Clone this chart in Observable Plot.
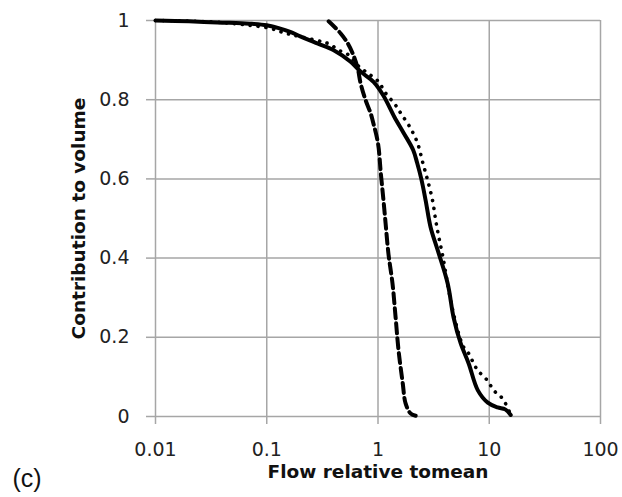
<!DOCTYPE html>
<html>
<head>
<meta charset="utf-8">
<script src="https://cdn.jsdelivr.net/npm/d3@7"></script>
<script src="https://cdn.jsdelivr.net/npm/@observablehq/plot@0.6"></script>
<style>
  html, body { margin: 0; padding: 0; background: #fff; }
  #chart { width: 622px; height: 497px; }
</style>
</head>
<body>
<div id="chart"></div>
<script>
// Tick values
const xTicks = [0.01, 0.1, 1, 10, 100];
const yTicks = [0, 0.2, 0.4, 0.6, 0.8, 1];

// Solid series
const solidX = [0.01, 0.02, 0.036, 0.07, 0.1, 0.13, 0.16, 0.2, 0.285, 0.4, 0.567, 0.697, 0.912, 1.12, 1.4, 1.7, 2.07, 2.25, 2.45, 2.68, 2.97, 3.44, 4.23, 4.78, 5.53, 6.53, 7.9, 9.7, 11.9, 13.9, 15.6];
const solidY = [1.0, 0.998, 0.995, 0.992, 0.988, 0.98, 0.972, 0.96, 0.942, 0.925, 0.896, 0.871, 0.845, 0.81, 0.757, 0.716, 0.673, 0.64, 0.6, 0.546, 0.478, 0.42, 0.336, 0.25, 0.185, 0.134, 0.066, 0.035, 0.023, 0.018, 0.004];

// Dotted series
const dottedX = [0.01, 0.03, 0.06, 0.108, 0.142, 0.174, 0.318, 0.37, 0.443, 0.544, 0.656, 0.773, 0.894, 1.04, 1.12, 1.44, 1.6, 1.96, 2.27, 2.52, 2.79, 3.09, 3.3, 3.52, 3.81, 4.5, 5.3, 5.89, 6.53, 7.24, 7.9, 9.29, 10.3, 11.4, 13.2, 15.6];
const dottedY = [1.0, 0.997, 0.99, 0.98, 0.969, 0.963, 0.946, 0.94, 0.925, 0.913, 0.887, 0.871, 0.858, 0.842, 0.824, 0.786, 0.766, 0.728, 0.69, 0.642, 0.597, 0.546, 0.496, 0.453, 0.407, 0.293, 0.21, 0.175, 0.159, 0.134, 0.116, 0.096, 0.078, 0.061, 0.045, 0.004];

// Dashed series
const dashedX = [0.36, 0.46, 0.533, 0.59, 0.656, 0.697, 0.773, 0.858, 0.894, 1.0, 1.06, 1.12, 1.17, 1.24, 1.35, 1.44, 1.53, 1.67, 1.77, 1.96, 2.18];
const dashedY = [0.998, 0.968, 0.943, 0.918, 0.88, 0.842, 0.799, 0.766, 0.748, 0.69, 0.614, 0.546, 0.488, 0.412, 0.336, 0.25, 0.167, 0.083, 0.033, 0.008, 0.002];

const xTitle = "Flow relative tomean";
const yTitle = "Contribution to volume";
const panelLabel = "(c)";

const toRows = (xs, ys) => xs.map((x, i) => ({x, y: ys[i]}));
const solid = toRows(solidX, solidY);
const dotted = toRows(dottedX, dottedY);
const dashed = toRows(dashedX, dashedY);

const grid = "#a6a6a6";

const chart = Plot.plot({
  width: 622,
  height: 497,
  marginLeft: 155,
  marginRight: 22,
  marginTop: 20,
  marginBottom: 81,
  style: {fontFamily: "DejaVu Sans", fontSize: "19px", background: "#fff", color: "#222"},
  x: {type: "log", domain: [0.01, 100]},
  y: {domain: [0, 1]},
  marks: [
    Plot.ruleX(xTicks, {stroke: grid, strokeWidth: 1.5}),
    Plot.ruleY(yTicks, {stroke: grid, strokeWidth: 1.5}),
    Plot.axisX({ticks: xTicks, tickSize: 8, tickPadding: 18, stroke: grid, strokeWidth: 1.5, fill: "#222", tickFormat: d => String(d), label: null}),
    Plot.axisY({ticks: yTicks, tickSize: 9, tickPadding: 17, stroke: grid, strokeWidth: 1.5, fill: "#222", tickFormat: d => String(d), label: null}),
    Plot.line(dashed, {x: "x", y: "y", stroke: "#000", strokeWidth: 4, strokeDasharray: "10,5", curve: "catmull-rom"}),
    Plot.line(dotted, {x: "x", y: "y", stroke: "#000", strokeWidth: 3.6, strokeDasharray: "0.1,7.8", strokeLinecap: "round", curve: "catmull-rom"}),
    Plot.line(solid, {x: "x", y: "y", stroke: "#000", strokeWidth: 4, curve: "catmull-rom"}),
    Plot.text([xTitle], {text: d => d, frameAnchor: "bottom", dy: 61, fontWeight: "bold", fontSize: 18.5, fill: "#111"}),
    Plot.text([yTitle], {text: d => d, frameAnchor: "left", dx: -76, rotate: -90, textAnchor: "middle", fontWeight: "bold", fontSize: 18.5, fill: "#111"}),
    Plot.text([panelLabel], {text: d => d, frameAnchor: "bottom-left", dx: -143, dy: 70, textAnchor: "start", fontSize: 25, fontFamily: "Liberation Sans", fill: "#111"})
  ]
});
document.getElementById("chart").appendChild(chart);
</script>
</body>
</html>
